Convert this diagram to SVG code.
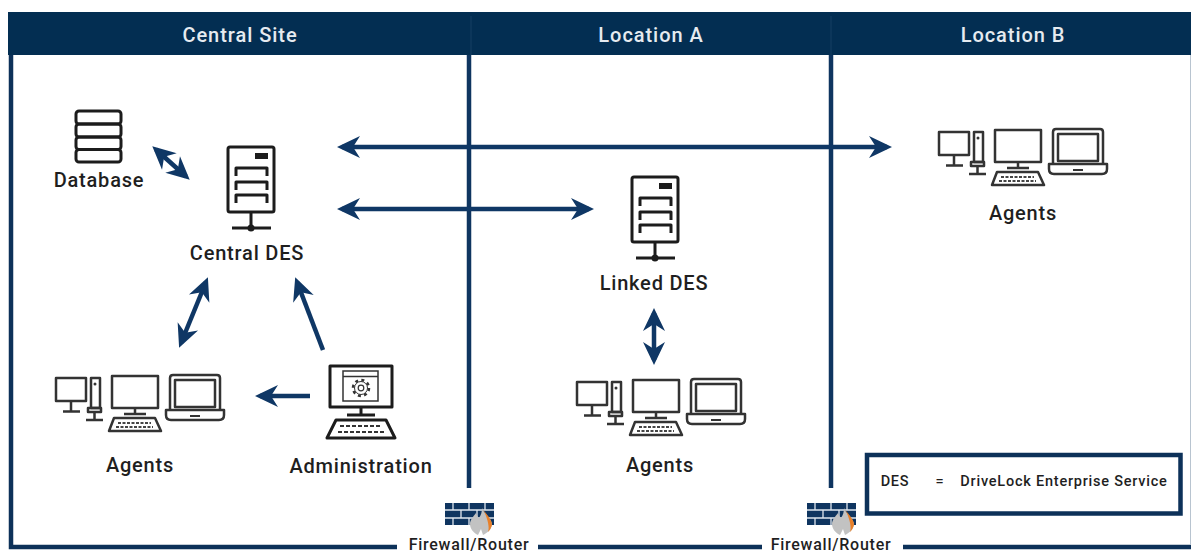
<svg xmlns="http://www.w3.org/2000/svg" width="1191" height="554" viewBox="0 0 1191 554">
<style>
text{font-family:"Roboto","Liberation Sans",sans-serif;font-weight:500;fill:#1f1f1f;text-anchor:middle;font-size:20px;letter-spacing:.8px}
.hd{fill:#e6ebf0;font-size:20px;letter-spacing:.95px}
.sm{font-size:14.500px;letter-spacing:.77px}
.fw{font-size:16px;letter-spacing:.75px}
.k{fill:none;stroke:#1c1c1c;stroke-width:3;stroke-linejoin:round}
.g{fill:none;stroke:#333;stroke-width:2.500;stroke-linejoin:round}
.c{fill:none;stroke:#0f3765;stroke-width:4.500}
.b{fill:none;stroke:#0d3159;stroke-width:4.500}
</style>
<defs>
<marker id="h" markerUnits="userSpaceOnUse" markerWidth="28" markerHeight="26" viewBox="-1 -13 28 26" refX="18" refY="0" orient="auto-start-reverse"><path d="M0,-11 L23,0 L0,11 L7,0Z" fill="#0f3765"/></marker>
<g id="server">
<rect x="228" y="147" width="46" height="65" rx="2" class="k"/>
<rect x="255" y="153" width="13" height="6" fill="#1c1c1c"/>
<path class="k" d="M236,176V168H267V176M236,190V182H267V190M236,203V195H267V203M251,212V228M232,228H271"/>
<circle cx="251" cy="228" r="3.500" fill="#1c1c1c"/>
</g>
<g id="agents">
<rect x="56" y="378" width="30" height="23" class="g"/>
<path class="g" d="M71,401V411M63,411.500H80"/>
<rect x="91" y="378" width="9" height="30" class="g"/>
<circle cx="95" cy="384" r="1.500" fill="#333"/>
<rect x="88" y="408" width="13" height="4" class="g"/>
<path class="g" d="M94.500,412V420M86,420H103"/>
<rect x="112" y="376" width="46" height="32" class="g"/>
<path class="g" d="M135,408V413.500M124,414H146"/>
<path class="g" d="M114,418H155L161,431H109Z"/>
<path d="M118,423H151M116,427H153" stroke="#444" stroke-width="1.800" stroke-dasharray="3 1.500"/>
<path class="g" d="M170,410V378Q170,375 173,375H217Q220,375 220,378V410"/>
<rect x="175" y="380" width="40" height="27" class="g"/>
<path class="g" d="M166,410H224V415Q224,420 219,420H171Q166,420 166,415Z"/>
<path d="M190,416H200" stroke="#333" stroke-width="2"/>
</g>
<g id="firewall">
<rect x="445" y="503" width="49" height="22" fill="#0f3560"/>
<path d="M445,510H494M445,518H494M453,503V510M469,503V510M485,503V510M461,510V518M477,510V518M453,518V525M469,518V525" stroke="#dfe6ee" stroke-width="1.300" fill="none"/>
<path d="M482,508C484,514 492,518 492,525C491,530 487,533 483,535L481,529L478,535C474,533 470,529 470,524C470,520 473,517 476,513C477,516 478,517 479,518C481,515 482,512 482,508Z" fill="#c2c2c2"/>
<path d="M482,507C484,513 492,518 492,525C491,528 490,530 488,532C490,526 487,517 482,507Z" fill="#e8802a"/>
</g>
</defs>

<g id="frame">
<path class="b" d="M397,547H11V30"/>
<path d="M538,547H762M903,547H1191" class="b"/>
<path d="M1190.500,55V545" stroke="#b8c4d0" stroke-width="1"/>
<rect x="8" y="12" width="1183" height="43" fill="#032e52"/>
<path d="M471,16V55M831,16V55" stroke="#173f63" stroke-width="1"/>
<text class="hd" x="240" y="41.500">Central Site</text>
<text class="hd" x="651" y="41.500">Location A</text>
<text class="hd" x="1013" y="41.500">Location B</text>
</g>

<g id="boundaries">
<path d="M469,55V488M831,55V488" stroke="#0f3560" stroke-width="4.500" fill="none"/>
</g>

<g id="connectors">
<path class="c" marker-start="url(#h)" marker-end="url(#h)" d="M342,147H887"/>
<path class="c" marker-start="url(#h)" marker-end="url(#h)" d="M342,209H589"/>
<path class="c" marker-start="url(#h)" marker-end="url(#h)" d="M156,149.500L186,176.500"/>
<path class="c" marker-start="url(#h)" marker-end="url(#h)" d="M206,282L181,343"/>
<path class="c" marker-end="url(#h)" d="M323,350L297,282"/>
<path class="c" marker-end="url(#h)" d="M310,396H260"/>
<path class="c" marker-start="url(#h)" marker-end="url(#h)" d="M654,313V360"/>
</g>

<g id="database">
<rect x="76" y="111" width="45" height="13" rx="3" class="k"/>
<rect x="76" y="124" width="45" height="13" rx="3" class="k"/>
<rect x="76" y="137" width="45" height="12.500" rx="3" class="k"/>
<rect x="76" y="149.500" width="45" height="12.500" rx="3" class="k"/>
<text x="99" y="187">Database</text>
</g>

<g id="central-des">
<use href="#server"/>
<text x="247" y="260">Central DES</text>
</g>

<g id="linked-des">
<use href="#server" x="404" y="30"/>
<text x="654" y="290">Linked DES</text>
</g>

<g id="agents-central">
<use href="#agents"/>
<text x="140" y="472">Agents</text>
</g>

<g id="agents-a">
<use href="#agents" x="521" y="4"/>
<text x="660" y="472">Agents</text>
</g>

<g id="agents-b">
<use href="#agents" x="883" y="-246"/>
<text x="1023" y="220">Agents</text>
</g>

<g id="administration">
<rect x="330" y="366" width="62" height="41" class="k"/>
<rect x="343" y="371" width="35" height="30" fill="none" stroke="#333" stroke-width="1.500"/>
<path d="M343,376.500H378" stroke="#333" stroke-width="1.500"/>
<circle cx="361" cy="388" r="8" fill="none" stroke="#333" stroke-width="2.500" stroke-dasharray="3 3.300"/>
<circle cx="361" cy="388" r="6.500" fill="none" stroke="#333" stroke-width="1"/>
<circle cx="361" cy="388" r="2.800" fill="none" stroke="#333" stroke-width="1.200"/>
<path class="k" d="M361,407V415M347,415H375M336,420H386L395,438H327Z"/>
<path d="M340,426H382M338,432H384" stroke="#333" stroke-width="2" stroke-dasharray="4 2"/>
<text x="361" y="473">Administration</text>
</g>

<g id="firewall-1">
<use href="#firewall"/>
<text class="fw" x="469" y="550">Firewall/Router</text>
</g>

<g id="firewall-2">
<use href="#firewall" x="362"/>
<text class="fw" x="831" y="550">Firewall/Router</text>
</g>

<g id="legend">
<rect x="867" y="455" width="313.500" height="58.500" fill="#fff" stroke="#0d3159" stroke-width="4.500"/>
<text class="sm" x="895" y="486">DES</text>
<text class="sm" x="940" y="486">=</text>
<text class="sm" x="1064" y="486">DriveLock Enterprise Service</text>
</g>
</svg>
